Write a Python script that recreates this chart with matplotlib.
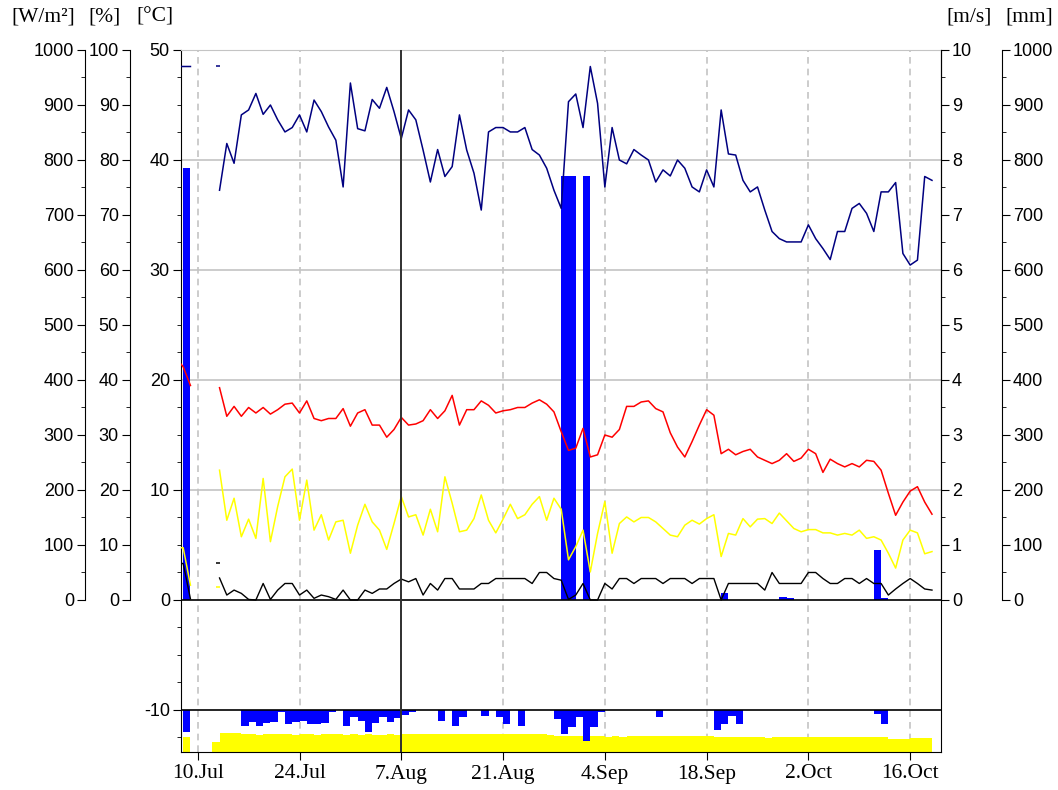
import matplotlib

matplotlib.use("Agg")
import matplotlib.pyplot as plt
import numpy as np
from matplotlib.ticker import MultipleLocator

nan = np.nan

# day 0 = 8 Jul; line readings sit on day boundaries, bars cover one day
line_days = np.arange(-1, 104)

humidity = [  # %
    97, 97, 97, nan, nan, nan, 74.5, 83, 79.4, 88.2,
    89.1, 92.1, 88.3, 90, 87.3, 85.1, 85.9, 88.2, 85.1, 90.9,
    88.8, 86, 83.6, 75.1, 94, 85.7, 85.3, 91, 89.4, 93.2,
    88.8, 83.9, 89.1, 87.3, 81.8, 76, 81.9, 77, 78.8, 88.2,
    81.8, 77.6, 70.9, 85.1, 85.9, 85.9, 85.1, 85.1, 85.9, 81.9,
    80.9, 78.5, 74.5, 71.2, 90.6, 92, 85.9, 97, 90.3, 75.1,
    85.9, 80, 79.3, 81.9, 80.9, 80, 76, 78.2, 77.1, 80,
    78.5, 75.1, 74.2, 78.2, 75.1, 89.1, 81.1, 80.9, 76.3, 74.2,
    75.1, 70.9, 67, 65.7, 65.1, 65.1, 65.1, 68.2, 65.7, 63.9,
    61.9, 67, 67, 71.2, 72.1, 70.3, 67, 74.2, 74.2, 75.9,
    63, 60.9, 61.8, 77, 76.3,
]
temperature = [  # °C
    22.0, 21.2, 19.5, nan, nan, nan, 19.3, 16.7, 17.6, 16.7,
    17.5, 17.0, 17.5, 16.9, 17.3, 17.8, 17.9, 17.0, 18.1, 16.5,
    16.3, 16.5, 16.5, 17.4, 15.8, 17.0, 17.3, 15.9, 15.9, 14.8,
    15.5, 16.6, 15.9, 16.0, 16.3, 17.3, 16.5, 17.2, 18.6, 15.9,
    17.3, 17.3, 18.1, 17.7, 17.0, 17.2, 17.3, 17.5, 17.5, 17.9,
    18.2, 17.8, 17.1, 15.3, 13.6, 13.8, 15.6, 13.0, 13.2, 15.0,
    14.8, 15.5, 17.6, 17.6, 18.0, 18.1, 17.4, 17.1, 15.2, 13.9,
    13.0, 14.4, 15.9, 17.3, 16.8, 13.3, 13.7, 13.2, 13.5, 13.7,
    13.0, 12.7, 12.4, 12.7, 13.3, 12.6, 12.9, 13.7, 13.3, 11.6,
    12.8, 12.4, 12.1, 12.4, 12.1, 12.7, 12.6, 11.8, 9.7, 7.7,
    8.9, 9.9, 10.3, 8.9, 7.8,
]
radiation = [  # W/m²
    95, 95, 27, nan, nan, nan, 236, 145, 185, 115,
    147, 112, 221, 106, 170, 224, 238, 145, 218, 127,
    155, 109, 142, 145, 85, 136, 174, 142, 127, 92,
    139, 188, 151, 155, 118, 165, 124, 224, 176, 124,
    127, 148, 191, 145, 122, 147, 174, 148, 155, 174,
    188, 145, 185, 165, 73, 97, 127, 51, 121, 179,
    85, 139, 151, 142, 150, 150, 142, 130, 118, 115,
    136, 145, 138, 148, 155, 79, 121, 118, 148, 133,
    147, 148, 139, 158, 144, 130, 124, 128, 128, 122,
    122, 118, 121, 118, 127, 112, 115, 109, 85, 58,
    109, 127, 122, 84, 88,
]
wind = [  # m/s
    0.70, 0.66, 0.02, nan, nan, nan, 0.40, 0.09, 0.18, 0.12,
    0.01, 0.0, 0.30, 0.01, 0.18, 0.30, 0.30, 0.09, 0.18, 0.03,
    0.09, 0.06, 0.01, 0.18, 0.0, 0.0, 0.18, 0.12, 0.20, 0.20,
    0.30, 0.38, 0.33, 0.39, 0.09, 0.30, 0.18, 0.39, 0.39, 0.20,
    0.20, 0.20, 0.30, 0.30, 0.39, 0.39, 0.39, 0.39, 0.39, 0.30,
    0.50, 0.50, 0.39, 0.36, 0.01, 0.09, 0.30, 0.0, 0.0, 0.30,
    0.20, 0.39, 0.39, 0.30, 0.39, 0.39, 0.39, 0.30, 0.39, 0.39,
    0.39, 0.30, 0.39, 0.39, 0.39, 0.0, 0.30, 0.30, 0.30, 0.30,
    0.30, 0.18, 0.50, 0.30, 0.30, 0.30, 0.30, 0.50, 0.50, 0.39,
    0.30, 0.30, 0.39, 0.39, 0.30, 0.39, 0.30, 0.30, 0.09, 0.20,
    0.30, 0.39, 0.30, 0.20, 0.18,
]

# lone readings just before the lines resume (12 Jul)
stub_span = (4.45, 5.0)
stub_humidity = 97
stub_radiation = 24
stub_wind = 0.68

rain_days = [0, 52, 53, 55, 74, 82, 83, 95, 96]
rain_mm = [785, 771, 771, 771, 12, 6, 4, 91, 4]

# bottom strip (in °C-axis units): blue hangs from the -10 line, yellow rises from the floor
strip_days = np.arange(0, 103)
strip_blue = [
    2.03, 0, 0, 0, 0, 0, 0, 0, 1.42, 1.06,
    1.42, 1.21, 1.06, 0.21, 1.27, 1.06, 0.97, 1.27, 1.27, 1.21,
    0.21, 0, 1.42, 0.67, 0.97, 1.97, 1.21, 0.67, 1.06, 0.76,
    0.45, 0.21, 0, 0, 0, 1.03, 0, 1.42, 0.67, 0,
    0, 0.52, 0, 0.67, 1.27, 0, 1.42, 0, 0, 0,
    0, 0.80, 2.18, 1.58, 0.67, 2.79, 1.58, 0.21, 0, 0,
    0, 0, 0, 0, 0, 0.67, 0, 0, 0, 0,
    0, 0, 0, 1.79, 1.27, 0.52, 1.27, 0, 0, 0,
    0, 0, 0, 0, 0, 0, 0, 0, 0, 0,
    0, 0, 0, 0, 0, 0.36, 1.27, 0, 0, 0,
    0, 0, 0,
]
strip_yellow = [
    1.36, 0, 0, 0, 0.91, 1.77, 1.77, 1.73, 1.64, 1.64,
    1.59, 1.64, 1.64, 1.68, 1.64, 1.59, 1.64, 1.64, 1.59, 1.64,
    1.64, 1.64, 1.59, 1.64, 1.55, 1.64, 1.59, 1.55, 1.64, 1.59,
    1.68, 1.64, 1.64, 1.68, 1.64, 1.64, 1.68, 1.64, 1.64, 1.68,
    1.64, 1.64, 1.68, 1.64, 1.64, 1.68, 1.64, 1.68, 1.64, 1.64,
    1.59, 1.41, 1.41, 1.41, 1.41, 1.41, 1.41, 1.41, 1.36, 1.41,
    1.36, 1.45, 1.50, 1.50, 1.45, 1.50, 1.50, 1.41, 1.45, 1.50,
    1.45, 1.50, 1.50, 1.36, 1.33, 1.33, 1.33, 1.33, 1.33, 1.33,
    1.30, 1.33, 1.33, 1.36, 1.33, 1.33, 1.33, 1.33, 1.33, 1.33,
    1.33, 1.33, 1.33, 1.33, 1.33, 1.33, 1.33, 1.21, 1.21, 1.21,
    1.30, 1.27, 1.30,
]

tick_days = [2, 16, 30, 44, 58, 72, 86, 100]
tick_labels = ["10.Jul", "24.Jul", "7.Aug", "21.Aug", "4.Sep", "18.Sep", "2.Oct", "16.Oct"]
cursor_day = 30

X_RANGE = (-0.30, 104.24)
T_RANGE = (-13.82, 50)          # °C axis; every other scale is tied to it
SCALE = {"w": 20, "h": 2, "v": 0.2, "p": 20}
SERIF = "Liberation Serif"
LW = 1.1

plt.rcParams.update({"font.family": "Liberation Sans", "font.size": 13,
                     "axes.unicode_minus": False,
                     "xtick.major.size": 6, "ytick.major.size": 6,
                     "ytick.minor.size": 3, "xtick.major.pad": 3,
                     "ytick.major.pad": 2})


def _hide_spines(ax, keep=None):
    for name, sp in ax.spines.items():
        sp.set_visible(name == keep)


def _twin(ax, side, offset, top, major, minor, factor):
    tw = ax.twinx()
    _hide_spines(tw, side)
    tw.set_ylim(T_RANGE[0] * factor, T_RANGE[1] * factor)
    tw.spines[side].set_position(("axes", offset))
    tw.spines[side].set_bounds(0, top)
    if side == "left":
        tw.yaxis.set_ticks_position("left")
    majors = np.arange(0, top + major / 2, major)
    tw.set_yticks(majors)
    tw.set_yticks(np.arange(0, top + minor / 2, minor), minor=True)
    tw.set_yticklabels([f"{t:g}" for t in majors])
    return tw


def main():
    fig = plt.figure(figsize=(10.58, 7.90), dpi=100)
    fig.patch.set_facecolor("white")
    ax = fig.add_axes([181 / 1058, 1 - 752 / 790, 760 / 1058, 702 / 790])

    # bottom-most layer: precipitation bars plus the grid
    ax_p = _twin(ax, "right", 1 + 61 / 760, 1000, 100, 50, SCALE["p"])
    ax_p.set_zorder(0)
    ax_p.patch.set_visible(True)
    ax_p.patch.set_facecolor("white")
    for g in range(10, 51, 10):
        ax_p.axhline(g * SCALE["p"], color="#c4c4c4", lw=1.2, zorder=0)
    for d in tick_days:
        ax_p.axvline(d, color="#c4c4c4", lw=1.2, ls=(0, (4, 3)), zorder=0)
    ax_p.bar(rain_days, rain_mm, width=1, align="edge", color="#0000ff", lw=0, zorder=2)

    ax.set_zorder(1)
    ax.patch.set_visible(False)
    ax.set_xlim(*X_RANGE)
    ax.set_ylim(*T_RANGE)
    ax.bar(strip_days, strip_yellow, bottom=T_RANGE[0], width=1, align="edge",
           color="#ffff00", lw=0)
    ax.bar(strip_days, -np.asarray(strip_blue), bottom=-10, width=1, align="edge",
           color="#0000ff", lw=0)
    ax.axhline(0, color="black", lw=1.2)
    ax.axhline(-10, color="black", lw=1.2)
    ax.plot(line_days, temperature, color="#ff0000", lw=LW, zorder=3)
    ax.set_yticks(np.arange(-10, 51, 10))
    ax.yaxis.set_minor_locator(MultipleLocator(2.5))
    ax.set_xticks(tick_days)
    ax.set_xticklabels(tick_labels, family=SERIF, fontsize=15.5)
    ax.spines["top"].set_color("#c4c4c4")
    ax.tick_params(axis="y", which="both", right=False)

    ax_h = _twin(ax, "left", -51 / 760, 100, 10, 5, SCALE["h"])
    ax_w = _twin(ax, "left", -96 / 760, 1000, 100, 50, SCALE["w"])
    ax_v = _twin(ax, "right", 1.0, 10, 1, 0.5, SCALE["v"])
    for tw in (ax_h, ax_w, ax_v):
        tw.set_zorder(2)

    ax_h.plot(line_days, humidity, color="#000080", lw=LW)
    ax_h.hlines(stub_humidity, *stub_span, color="#000080", lw=LW)
    ax_w.plot(line_days, radiation, color="#ffff00", lw=LW)
    ax_w.hlines(stub_radiation, *stub_span, color="#ffff00", lw=LW)
    ax_v.plot(line_days, wind, color="black", lw=1.0)
    ax_v.hlines(stub_wind, *stub_span, color="black", lw=LW)
    ax_v.axvline(cursor_day, color="#303030", lw=1.4)

    for tw in (ax_h, ax_w, ax_v, ax_p):
        tw.set_xlim(*X_RANGE)

    units = [("[W/m²]", 43), ("[%]", 105), ("[°C]", 155), ("[m/s]", 969), ("[mm]", 1029)]
    for text, xpix in units:
        fig.text(xpix / 1058, 1 - 17 / 790, text, ha="center", va="center",
                 family=SERIF, fontsize=15.5)

    fig.savefig("out.png", dpi=100, facecolor="white")
    plt.close(fig)


if __name__ == "__main__":
    main()
